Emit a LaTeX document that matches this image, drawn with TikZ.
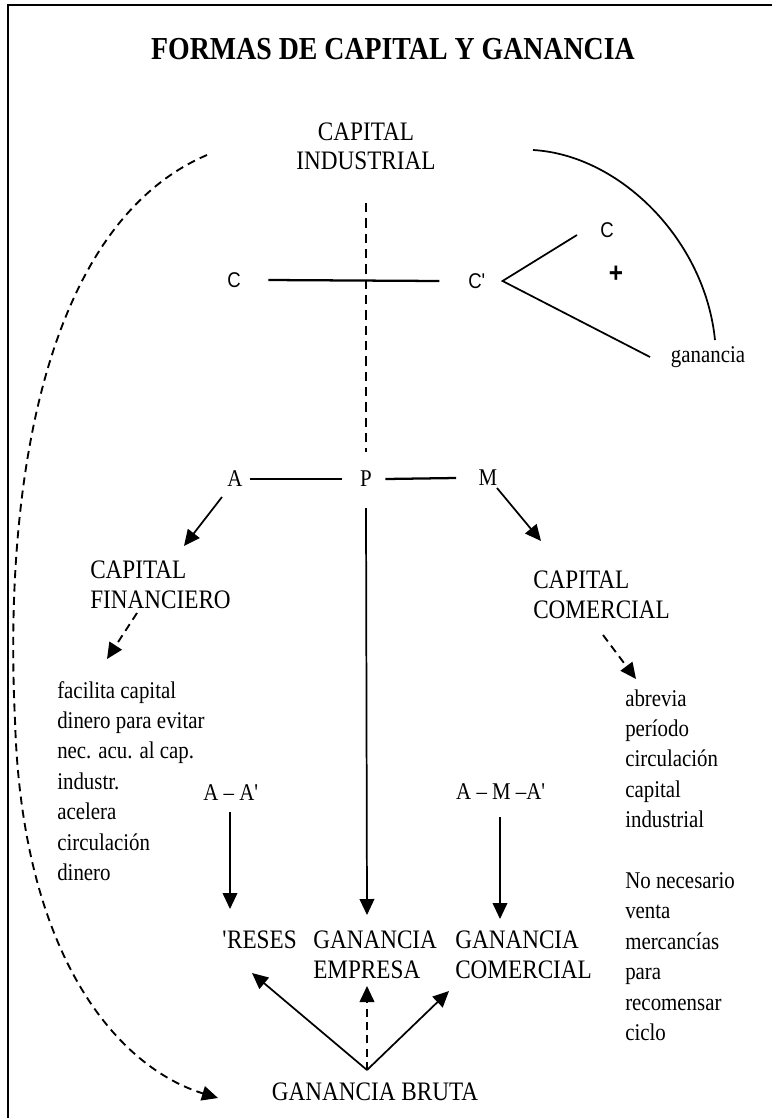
\documentclass[tikz,border=0pt]{standalone}
\usepackage{fontspec}
\setmainfont{Liberation Serif}[FakeStretch=0.87]
\newfontfamily\sfcond{Liberation Sans}[FakeStretch=0.87]
\usetikzlibrary{arrows.meta}
\newcommand\fsz[2]{\fontsize{#1}{#2}\selectfont}
\begin{document}
\begin{tikzpicture}[x=0.75pt,y=-0.75pt,
  lbl/.style={inner sep=0pt,font=\fsz{18pt}{22.8pt}},
  slbl/.style={inner sep=0pt,font=\sfcond\fsz{16pt}{20pt}},
  caps/.style={inner sep=0pt,font=\fsz{20pt}{22.5pt},align=left},
  txt/.style={inner sep=0pt,font=\fsz{18pt}{22.8pt},align=left,anchor=west},
  conn/.style={line width=1.3pt},
  thk/.style={line width=1.7pt},
  tip/.style={-{Triangle[length=12pt,width=11pt]}},
  arr/.style={line width=1.3pt,tip},
  dsh/.style={line width=1.3pt,dash pattern=on 7pt off 4.5pt},
  darr/.style={line width=1.4pt,dash pattern=on 6pt off 4pt,tip}]
\useasboundingbox (0,0) rectangle (772,1118);
% frame
\draw[line width=1.8pt] (8,1118) -- (8,5) -- (772,5);
% title
\node[inner sep=0pt,font=\bfseries\fsz{24pt}{28pt}] (title) at (393,49) {FORMAS DE CAPITAL Y GANANCIA};
% nodes
\node[caps,align=center] (capind) at (366,146) {CAPITAL\\[-1pt]INDUSTRIAL};
\node[slbl] (C) at (234,280) {C};
\node[slbl] (Cp) at (477,281) {C\textquotesingle};
\node[slbl] (Ctop) at (607,230) {C};
\node[inner sep=0pt,font=\sfcond\bfseries\fsz{21pt}{22pt}] (plus) at (616,274) {+};
\node[lbl] (gan) at (708,357) {ganancia};
\node[lbl] (A) at (235,479) {A};
\node[lbl] (P) at (366,479) {P};
\node[lbl] (M) at (488,478) {M};
\node[caps,anchor=west] (capfin) at (90,585) {CAPITAL\\FINANCIERO};
\node[caps,anchor=west] (capcom) at (533,595) {CAPITAL\\COMERCIAL};
\node[txt] (facil) at (57,781) {facilita capital\\dinero para evitar\\nec. acu. al cap.\\industr.\\acelera\\circulación\\dinero};
\node[txt] (abrev) at (625,865) {abrevia\\período\\circulación\\capital\\industrial\\[22.8pt]No necesario\\venta\\mercancías\\para\\recomensar\\ciclo};
\node[lbl] (AA) at (231,793) {A – A\textquotesingle};
\node[lbl] (AMA) at (501,792) {A – M –A\textquotesingle};
\node[caps,anchor=west] (reses) at (222,940) {\textquotesingle RESES};
\node[caps,anchor=west] (ganemp) at (313,955) {GANANCIA\\EMPRESA};
\node[caps,anchor=west] (gancom) at (455,955) {GANANCIA\\COMERCIAL};
\node[caps] (ganbruta) at (375,1092) {GANANCIA BRUTA};
% helper coordinates
\coordinate (v) at ([xshift=12.4pt]Cp.east);
\coordinate (vc) at (577,235);
\coordinate (vg) at (650,357);
\coordinate (ra) at (533,150);
\coordinate (rb) at (715,340);
\coordinate (la) at (207,155);
\coordinate (lb) at (218,1098);
\coordinate (a1) at (222,497);
\coordinate (a2) at (184,546);
\coordinate (m1) at (497,488);
\coordinate (m2) at (541,541);
\coordinate (f1) at (137,613);
\coordinate (f2) at (107,659);
\coordinate (k1) at (603,635);
\coordinate (k2) at (636,679);
\coordinate (pe) at (367,915);
\coordinate (aa1) at (230,812);
\coordinate (aa2) at (230,909);
\coordinate (am1) at (500,817);
\coordinate (am2) at (500,919);
\coordinate (apex) at (367,1070);
\coordinate (tr) at (252,973);
\coordinate (te) at (367,986);
\coordinate (tc) at (449,991);
% connectors
\draw[dsh] ([yshift=-25pt]capind.south) -- ([yshift=14pt]P.north);
\draw[thk] ([xshift=20.5pt]C.east) -- ([xshift=-21.4pt]Cp.west);
\draw[conn] (vc) -- (v) -- (vg);
\draw[conn] (ra) .. controls (620,155) and (705,240) .. (rb);
\draw[thk] ([xshift=5.6pt]A.east) -- ([xshift=-13.7pt]P.west);
\draw[thk] ([xshift=9.9pt]P.east) -- ([xshift=-16.7pt]M.west);
\draw[arr] (a1) -- (a2);
\draw[arr] (m1) -- (m2);
\draw[darr] (f1) -- (f2);
\draw[darr] (k1) -- (k2);
\draw[arr] ([yshift=-15.75pt]P.south) -- (pe);
\draw[arr] (aa1) -- (aa2);
\draw[arr] (am1) -- (am2);
\draw[arr] (apex) -- (tr);
\draw[darr] (apex) -- (te);
\draw[arr] (apex) -- (tc);
\draw[darr] (la) .. controls (50,222) and (3,470) .. (15,720) .. controls (22,960) and (120,1068) .. (lb);
\end{tikzpicture}
\end{document}
